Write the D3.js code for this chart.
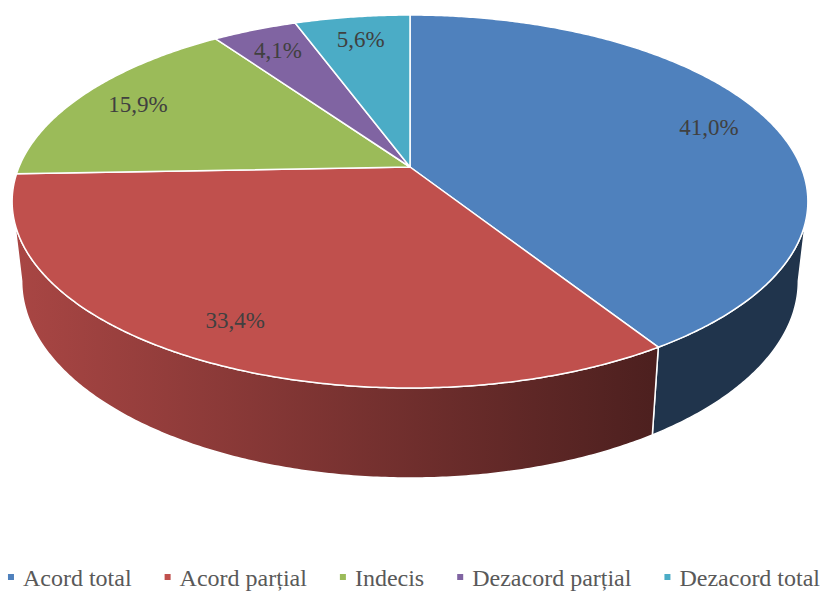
<!DOCTYPE html>
<html>
<head>
<meta charset="utf-8">
<script src="https://cdn.jsdelivr.net/npm/d3@7/dist/d3.min.js"></script>
<style>
  html, body { margin: 0; padding: 0; background: #ffffff; }
  svg { display: block; }
</style>
</head>
<body>
<svg id="chart" width="824" height="592"></svg>
<script>
// ---- data ----
const categories = ["Acord total", "Acord parțial", "Indecis", "Dezacord parțial", "Dezacord total"];
const values = [41.0, 33.4, 15.9, 4.1, 5.6];
const labels = ["41,0%", "33,4%", "15,9%", "4,1%", "5,6%"];
const colors = ["#4F81BD", "#C0504D", "#9BBB59", "#8064A2", "#4BACC6"];

// ---- geometry (3D perspective pie) ----
const W = 824, H = 592;
const cx = 410, cy = 167;      // hub
const A = 391, B = 180.1;      // plane radii before perspective
const k = 0.185;               // perspective strength
const depth = 77.7;            // thickness (before perspective)
const bottomShrink = 0.976;    // far (bottom) face appears slightly smaller
const labelR = 0.83;

const xs = d3.scaleLinear().domain([-1, 1]).range([cx - A, cx + A]);
const ys = d3.scaleLinear().domain([-1, 1]).range([cy - B, cy + B]);

function proj(r, theta, z) {
  const u = r * Math.sin(theta);
  const v = -r * Math.cos(theta);
  const s = 1 / (1 - k * v);
  const f = 1 - z * (1 - bottomShrink);
  return [xs(u * s * f), ys(v * s * f) + z * depth * s];
}

const svg = d3.select("#chart");
const defs = svg.append("defs");

const pie = d3.pie().sort(null).value(d => d)
  .startAngle(0).endAngle(2 * Math.PI);
const arcs = pie(values);

const line = d3.line();
const step = Math.PI / 360;
function rimPoints(a, b, z) {
  const pts = [];
  const n = Math.max(2, Math.ceil((b - a) / step));
  for (let i = 0; i <= n; i++) pts.push(proj(1, a + (b - a) * i / n, z));
  return pts;
}

// gradient per slice for the sides (light at left, dark at right)
const gx1 = xs(-1) - 5, gx2 = 652;
colors.forEach((c, i) => {
  const g = defs.append("linearGradient")
    .attr("id", "side" + i)
    .attr("gradientUnits", "userSpaceOnUse")
    .attr("x1", gx1).attr("x2", gx2).attr("y1", 0).attr("y2", 0);
  const base = d3.rgb(c);
  const mk = f => d3.rgb(base.r * f, base.g * f, base.b * f).toString();
  g.append("stop").attr("offset", 0).attr("stop-color", mk(0.88));
  g.append("stop").attr("offset", 1).attr("stop-color", mk(0.40));
});

// sides (visible front part)
const thR = Math.acos(-k);
const thL = 2 * Math.PI - thR;
const sideG = svg.append("g");
arcs.forEach((d, i) => {
  const a = Math.max(d.startAngle, thR);
  const b = Math.min(d.endAngle, thL);
  if (b <= a) return;
  const top = rimPoints(a, b, 0);
  const bot = rimPoints(a, b, 1).reverse();
  sideG.append("path")
    .attr("d", line(top.concat(bot)) + "Z")
    .attr("fill", `url(#side${i})`)
    .attr("stroke", "#ffffff")
    .attr("stroke-width", 1.5)
    .attr("stroke-linejoin", "round");
});

// top faces
const topG = svg.append("g");
arcs.forEach((d, i) => {
  const pts = [[cx, cy]].concat(rimPoints(d.startAngle, d.endAngle, 0));
  topG.append("path")
    .attr("d", line(pts) + "Z")
    .attr("fill", colors[i])
    .attr("stroke", "#ffffff")
    .attr("stroke-width", 1.5)
    .attr("stroke-linejoin", "round");
});

// data labels
const labG = svg.append("g")
  .attr("font-family", "'Liberation Serif', 'Times New Roman', serif")
  .attr("font-size", 23)
  .attr("fill", "#404040");
arcs.forEach((d, i) => {
  const mid = (d.startAngle + d.endAngle) / 2;
  const p = proj(labelR, mid, 0);
  labG.append("text")
    .attr("x", p[0]).attr("y", p[1])
    .attr("text-anchor", "middle")
    .attr("dominant-baseline", "central")
    .text(labels[i]);
});

// legend
const legG = svg.append("g")
  .attr("font-family", "'Liberation Serif', 'Times New Roman', serif")
  .attr("font-size", 24)
  .attr("fill", "#595959");
const items = categories.map((c, i) => {
  const g = legG.append("g");
  g.append("rect").attr("width", 6).attr("height", 6).attr("y", -12).attr("fill", colors[i]);
  const t = g.append("text").attr("x", 15).attr("y", 0).text(c);
  return { g, w: 15 + t.node().getComputedTextLength() };
});
const gap = 33;
const total = d3.sum(items, d => d.w) + gap * (items.length - 1);
let x0 = (W - total) / 2 + 2;
items.forEach(it => {
  it.g.attr("transform", `translate(${x0},586)`);
  x0 += it.w + gap;
});
</script>
</body>
</html>
